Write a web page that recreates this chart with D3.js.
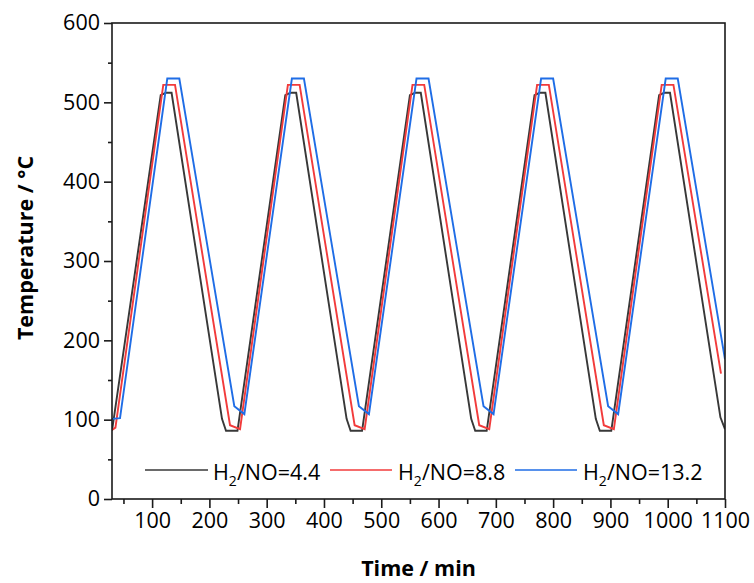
<!DOCTYPE html>
<html>
<head>
<meta charset="utf-8">
<script src="https://cdn.jsdelivr.net/npm/d3@7"></script>
<style>
  html, body { margin: 0; padding: 0; background: #ffffff; }
  svg { display: block; }
  text { font-family: "Open Sans", "Noto Sans", sans-serif; fill: #000; }
</style>
</head>
<body>
<svg id="chart" width="754" height="583"></svg>
<script>
// ---- Data (time in min, temperature in °C) ----
const seriesNames = ["4.4", "8.8", "13.2"];
const seriesColors = ["#383838", "#f23b3b", "#1f6de6"];

const dataH44 = [
  [30, 86], [115, 509], [124, 512], [134, 512], [222, 101], [229, 86],
  [249, 86], [332.5, 509], [341.5, 512], [351.5, 512], [439.5, 101], [446.5, 86],
  [466.5, 86], [550, 509], [559, 512], [569, 512], [657, 101], [664, 86],
  [684, 86], [767.5, 509], [776.5, 512], [786.5, 512], [874.5, 101], [881.5, 86],
  [901.5, 86], [985, 509], [994, 512], [1004, 512], [1092, 103], [1100, 88]
];
const dataH88 = [
  [30, 87], [36, 90], [119.5, 522], [140, 522], [236, 93], [253.5, 88],
  [337, 522], [357.5, 522], [453.5, 93], [471, 88],
  [554.5, 522], [575, 522], [671, 93], [688.5, 88],
  [772, 522], [792.5, 522], [888.5, 93], [906, 88],
  [989.5, 522], [1010, 522], [1093, 158]
];
const dataH132 = [
  [30, 101], [44, 102], [126.5, 530], [147.5, 530], [243.5, 117], [261, 107],
  [344, 530], [365, 530], [461, 117], [478.5, 107],
  [561.5, 530], [582.5, 530], [678.5, 117], [696, 107],
  [779, 530], [800, 530], [896, 117], [913.5, 107],
  [996.5, 530], [1017.5, 530], [1100, 176]
];
const allSeries = [dataH44, dataH88, dataH132];

const xDomain = [30, 1100];
const yDomain = [0, 600];
const xTickValues = [100, 200, 300, 400, 500, 600, 700, 800, 900, 1000, 1100];
const xMinorTicks = [50, 150, 250, 350, 450, 550, 650, 750, 850, 950, 1050];
const yTickValues = [0, 100, 200, 300, 400, 500, 600];
const yMinorTicks = [50, 150, 250, 350, 450, 550];
const xTitle = "Time / min";
const yTitle = "Temperature / °C";

// ---- Layout ----
const L = 112, R = 725, T = 23, B = 499;
const svg = d3.select("#chart");
const x = d3.scaleLinear().domain(xDomain).range([L, R]);
const y = d3.scaleLinear().domain(yDomain).range([B, T]);

svg.append("defs").append("clipPath").attr("id", "clip")
  .append("rect").attr("x", L).attr("y", T).attr("width", R - L).attr("height", B - T);

// Series lines
const line = d3.line().x(d => x(d[0])).y(d => y(d[1]));
const gLines = svg.append("g").attr("clip-path", "url(#clip)");
allSeries.forEach((s, i) => {
  gLines.append("path")
    .datum(s)
    .attr("d", line)
    .attr("fill", "none")
    .attr("stroke", seriesColors[i])
    .attr("stroke-width", 1.9)
    .attr("stroke-linejoin", "miter");
});

// Axes
const axisColor = "#1a1a1a";
const xAxis = d3.axisBottom(x).tickValues(xTickValues).tickSize(9).tickPadding(5).tickFormat(d3.format("d"));
const xMinor = d3.axisBottom(x).tickValues(xMinorTicks).tickSize(5).tickFormat("");
const yAxis = d3.axisLeft(y).tickValues(yTickValues).tickSize(8).tickPadding(4).tickFormat(d3.format("d"));
const yMinor = d3.axisLeft(y).tickValues(yMinorTicks).tickSize(4).tickFormat("");

function styleAxis(g) {
  g.select(".domain").remove();
  g.selectAll("line").attr("stroke", axisColor).attr("stroke-width", 1.6);
  g.selectAll("text").attr("font-size", 21.5).attr("fill", "#000")
    .attr("font-family", "'Open Sans', 'Noto Sans', sans-serif");
}
svg.append("g").attr("transform", `translate(0,${B})`).call(xAxis).call(styleAxis);
svg.append("g").attr("transform", `translate(0,${B})`).call(xMinor).call(styleAxis);
svg.append("g").attr("transform", `translate(${L},0)`).call(yAxis).call(styleAxis);
svg.append("g").attr("transform", `translate(${L},0)`).call(yMinor).call(styleAxis);

// Frame
svg.append("rect").attr("x", L).attr("y", T).attr("width", R - L).attr("height", B - T)
  .attr("fill", "none").attr("stroke", axisColor).attr("stroke-width", 1.6);

// Titles
svg.append("text").attr("x", (L + R) / 2).attr("y", 576).attr("text-anchor", "middle")
  .attr("font-size", 21.5).attr("font-weight", "bold").text(xTitle);
svg.append("text").attr("transform", "translate(33,248) rotate(-90)").attr("text-anchor", "middle")
  .attr("font-size", 21.5).attr("font-weight", "bold").text(yTitle);

// Legend
const legendPos = [[145, 208, 213], [330, 392, 398], [515, 577, 583]];
const legendY = 470;
seriesNames.forEach((name, i) => {
  const p = legendPos[i];
  svg.append("line").attr("x1", p[0]).attr("x2", p[1]).attr("y1", legendY).attr("y2", legendY)
    .attr("stroke", seriesColors[i]).attr("stroke-width", 1.7);
  const t = svg.append("text").attr("x", p[2]).attr("y", 479.5).attr("font-size", 21.5);
  t.append("tspan").text("H");
  t.append("tspan").attr("font-size", 14).attr("dy", 6).text("2");
  t.append("tspan").attr("dy", -6).text("/NO=" + name);
});
</script>
</body>
</html>
